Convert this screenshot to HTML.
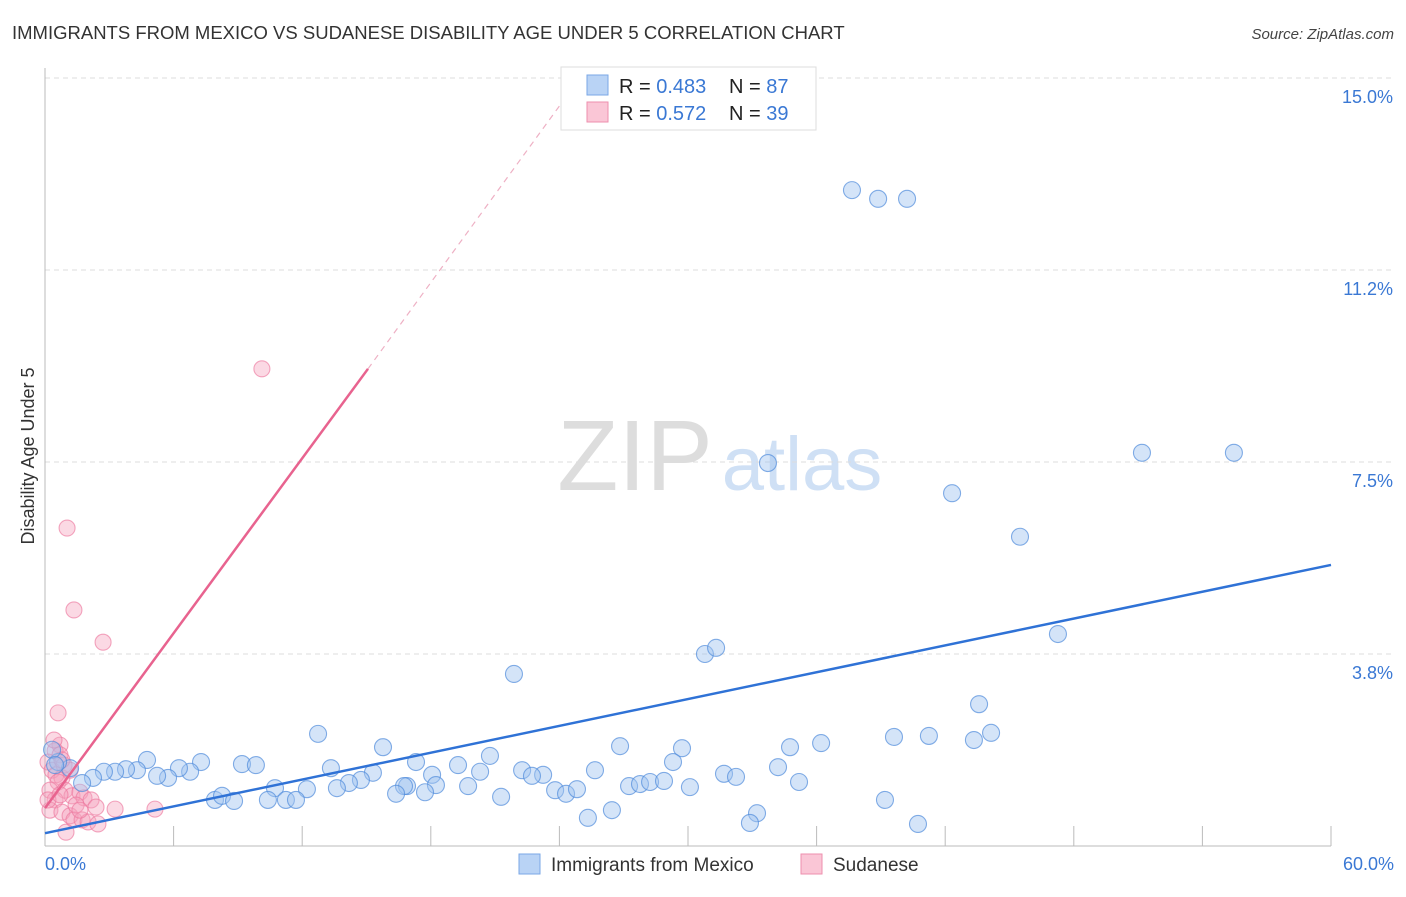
<!DOCTYPE html>
<html><head><meta charset="utf-8"><style>
body{margin:0;background:#fff;font-family:"Liberation Sans",sans-serif;}
svg text{font-family:"Liberation Sans",sans-serif;}
</style></head><body>
<svg id="chart" width="1406" height="892" xmlns="http://www.w3.org/2000/svg">
<text x="12" y="39" font-size="18.5" fill="#333">IMMIGRANTS FROM MEXICO VS SUDANESE DISABILITY AGE UNDER 5 CORRELATION CHART</text>
<text x="1394" y="39" font-size="15" fill="#444" font-style="italic" text-anchor="end">Source: ZipAtlas.com</text>
<text transform="translate(34,456) rotate(-90)" font-size="18" fill="#333" text-anchor="middle">Disability Age Under 5</text>
<g>
<text x="635" y="490" font-size="100" fill="#ddd" text-anchor="middle" font-family="Liberation Serif, serif">ZIP</text>
<text x="802" y="490" font-size="76" fill="#cfe0f5" text-anchor="middle">atlas</text>
</g>
<g id="grid"></g><g id="axes"></g><g id="pts"></g><g id="lines"></g>
<g>
<rect x="561" y="67" width="255" height="63" fill="#fff" stroke="#ddd"/>
<rect x="587" y="75" width="21" height="20" fill="#b9d3f5" stroke="#7aa7e6"/>
<rect x="587" y="102" width="21" height="20" fill="#fac6d6" stroke="#ee8fae"/>
<text x="619" y="93" font-size="20" fill="#222">R = <tspan fill="#3a78d4">0.483</tspan><tspan x="729">N = </tspan><tspan fill="#3a78d4">87</tspan></text>
<text x="619" y="120" font-size="20" fill="#222">R = <tspan fill="#3a78d4">0.572</tspan><tspan x="729">N = </tspan><tspan fill="#3a78d4">39</tspan></text>
</g>
<g>
<rect x="519" y="854" width="21" height="20" fill="#b9d3f5" stroke="#7aa7e6"/>
<text x="551" y="871" font-size="19" fill="#333">Immigrants from Mexico</text>
<rect x="801" y="854" width="21" height="20" fill="#fac6d6" stroke="#ee8fae"/>
<text x="833" y="871" font-size="19" fill="#333">Sudanese</text>
</g>
</svg>
<script>
const yTicks=[3.75,7.5,11.25,15];
const yTickLabels=["3.8%","7.5%","11.2%","15.0%"];
const xTicks=[0,6,12,18,24,30,36,42,48,54,60];
const xEndLabels=["0.0%","60.0%"];
const mexicoX=[37.65,38.87,40.22,33.73,51.18,55.47,42.32,45.49,47.26,30.79,31.31,21.88,43.58,44.14,39.61,41.24,43.34,36.21,34.76,29.72,26.83,12.74,15.77,20.76,17.31,19.27,18.06,29.30,34.20,25.66,22.26,23.24,20.30,22.72,15.30,13.34,14.74,14.18,13.62,16.89,18.24,19.74,16.75,16.38,17.73,23.80,24.31,24.82,27.25,27.76,28.23,28.88,30.09,31.68,32.24,35.18,21.28,25.33,26.45,33.22,32.89,39.19,40.73,10.73,12.22,10.40,11.24,11.71,7.93,8.26,8.82,9.19,9.84,7.28,6.77,6.25,5.74,5.23,4.76,4.29,3.78,3.27,2.75,2.24,1.73,1.17,0.61,0.33,0.47];
const mexicoY=[12.81,12.64,12.64,7.48,7.68,7.68,6.89,6.04,4.14,3.75,3.87,3.36,2.77,2.21,2.13,2.15,2.07,2.01,1.93,1.91,1.95,2.19,1.93,1.76,1.64,1.58,1.39,1.64,1.54,1.48,1.48,1.39,1.45,1.37,1.43,1.52,1.29,1.23,1.13,1.17,1.19,1.17,1.17,1.02,1.05,1.09,1.02,1.11,1.17,1.21,1.25,1.27,1.15,1.41,1.35,1.25,0.96,0.55,0.70,0.64,0.45,0.90,0.43,1.13,1.11,0.90,0.90,0.90,0.90,0.98,0.88,1.60,1.58,1.64,1.45,1.52,1.33,1.37,1.68,1.48,1.50,1.45,1.45,1.33,1.23,1.52,1.64,1.88,1.58];
const sudanX=[10.12,1.03,1.35,2.71,0.61,0.70,0.47,0.70,0.14,0.33,0.51,0.79,0.61,0.23,0.93,1.26,1.63,1.82,2.15,2.38,0.47,0.23,0.79,1.17,1.35,1.73,2.01,2.47,0.98,3.27,5.13,0.14,0.70,1.45,0.89,1.17,0.42,0.79,1.63];
const sudanY=[9.32,6.21,4.61,3.98,2.60,1.97,1.86,1.78,1.64,1.48,1.39,1.33,1.25,1.09,1.09,0.98,1.05,0.94,0.90,0.76,0.90,0.70,0.66,0.59,0.51,0.51,0.47,0.43,0.27,0.72,0.72,0.90,1.00,0.80,1.58,1.48,2.07,1.68,0.70];
const mexicoFit=[[0,0.25],[60,5.49]];
const sudanFit=[[0,0.74],[15.07,9.32]];
const sudanFitExt=[[15.07,9.32],[25.3,15.2]];
const X=v=>45+v*1286/60, Y=v=>846-v*51.2;
const NS="http://www.w3.org/2000/svg";
function mk(parent,tag,attrs){const e=document.createElementNS(NS,tag);for(const k in attrs)e.setAttribute(k,attrs[k]);document.getElementById(parent).appendChild(e);return e;}
yTicks.forEach((t,i)=>{
  const l=mk('grid','line',{x1:45,x2:1395,y1:Y(t),y2:Y(t),stroke:'#ddd','stroke-dasharray':'5,4'});
  
  
  const tx=mk('grid','text',{x:1393,y:Y(t)+25,'font-size':18,fill:'#3a78d4','text-anchor':'end'});
  tx.textContent=yTickLabels[i];
  
  
});
const ax=mk('axes','line',{x1:45,x2:45,y1:68,y2:846,stroke:'#bbb'});


const bx=mk('axes','line',{x1:45,x2:1331,y1:846,y2:846,stroke:'#bbb'});


xTicks.forEach(t=>{
  const l=mk('axes','line',{x1:X(t),x2:X(t),y1:826,y2:846,stroke:'#bbb'});
  
  
});
[[0,'start',45],[60,'end',1394]].forEach((d,i)=>{
  const tx=mk('axes','text',{x:d[2],y:870,'font-size':18,fill:'#3a78d4','text-anchor':d[1]});
  tx.textContent=xEndLabels[i];
  
  
});
sudanX.forEach((x,i)=>{
  const c=mk('pts','circle',{cx:X(x),cy:Y(sudanY[i]),r:8,fill:'rgba(246,160,188,0.4)',stroke:'rgba(236,120,158,0.65)','stroke-width':1.1});
  
  
});
mexicoX.forEach((x,i)=>{
  const c=mk('pts','circle',{cx:X(x),cy:Y(mexicoY[i]),r:8.5,fill:'rgba(160,196,240,0.45)',stroke:'rgba(80,140,220,0.7)','stroke-width':1.1});
  
  
});
const l1=mk('lines','line',{x1:X(mexicoFit[0][0]),y1:Y(mexicoFit[0][1]),x2:X(mexicoFit[1][0]),y2:Y(mexicoFit[1][1]),stroke:'#2f72d6','stroke-width':2.5});


const l2=mk('lines','line',{x1:X(sudanFit[0][0]),y1:Y(sudanFit[0][1]),x2:X(sudanFit[1][0]),y2:Y(sudanFit[1][1]),stroke:'#e8638f','stroke-width':2.5});


const l3=mk('lines','line',{x1:X(sudanFitExt[0][0]),y1:Y(sudanFitExt[0][1]),x2:X(sudanFitExt[1][0]),y2:Y(sudanFitExt[1][1]),stroke:'#eeb0c4','stroke-width':1.2,'stroke-dasharray':'6,5'});


</script>
</body></html>
